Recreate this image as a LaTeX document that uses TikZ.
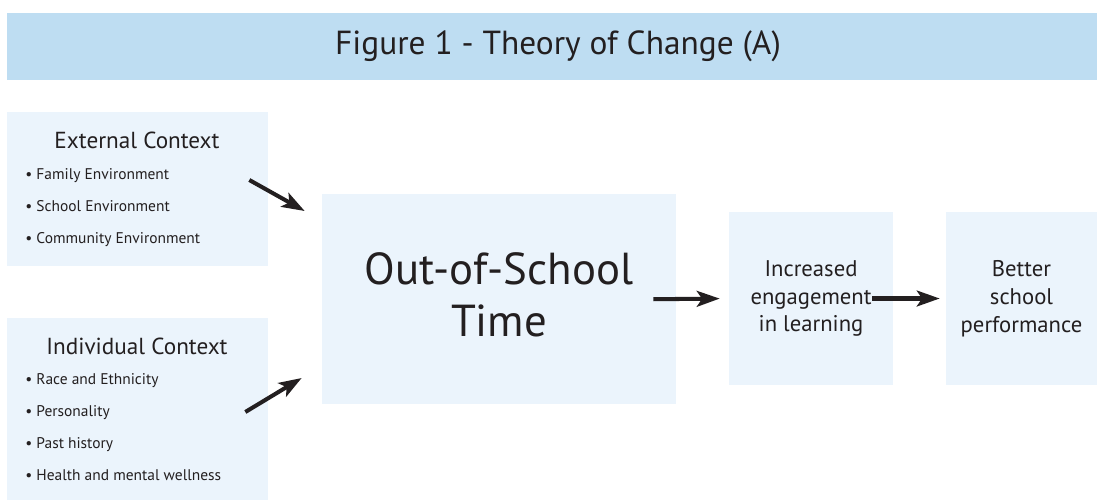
\documentclass[tikz,border=0pt]{standalone}
\usepackage{fontspec}
\setmainfont{PT Sans}
\usetikzlibrary{positioning, arrows.meta}
\definecolor{BannerColor}{RGB}{190,221,242}
\definecolor{BoxColor}{RGB}{235,244,252}
\definecolor{InkColor}{RGB}{35,31,32}
\tikzstyle{arrow} = [line width=2.3pt, InkColor, -{Stealth[length=13pt, width=9pt, inset=3pt]}]
\tikzset{
  banner/.style={fill=BannerColor, inner sep=0pt, text=InkColor, font=\fontsize{19}{23}\selectfont},
  box/.style={fill=BoxColor, inner sep=0pt, text=InkColor, align=center},
  heading/.style={text=InkColor, font=\fontsize{13.2}{15}\selectfont},
  bullet/.style={anchor=base west, inner sep=0pt, text=InkColor, font=\fontsize{8.8}{10}\selectfont},
  stage/.style={box, font=\fontsize{12.9}{15.9}\selectfont}
}

\begin{document}
\begin{tikzpicture}[x=0.02cm, y=-0.02cm]
  \useasboundingbox (0,0) rectangle (1097,501);

  % Title banner
  \node[banner, minimum width=22.04cm, minimum height=1.34cm] (banner) at (558,46.5) {Figure 1 - Theory of Change (A)};

  % External context
  \node[box, minimum width=5.22cm, minimum height=3.08cm] (ext) at (137.5,189) {};
  \node[heading] (exthead) at (137,140) {External Context};
  \foreach \txt [count=\i] in {Family Environment, School Environment, Community Environment}
    \node[bullet] (extitem\i) at (25,147+32*\i) {\textbullet\ \txt};

  % Individual context
  \node[box, minimum width=5.22cm, minimum height=3.64cm] (ind) at (137.5,409) {};
  \node[heading] (indhead) at (137,346) {Individual Context};
  \foreach \txt [count=\i] in {Race and Ethnicity, Personality, Past history, Health and mental wellness}
    \node[bullet] (inditem\i) at (25,352+32*\i) {\textbullet\ \txt};

  % Stages
  \node[box, minimum width=7.08cm, minimum height=4.2cm, font=\fontsize{25.5}{29.5}\selectfont] (ost) at (499,299) {Out-of-School\\Time\vphantom{p}};
  \node[stage, minimum width=3.28cm, minimum height=3.46cm] (inc) at (811,298.5) {Increased\\engagement\\in learning};
  \node[stage, minimum width=3.02cm, minimum height=3.46cm] (bet) at (1021.5,298.5) {Better\\school\\performance};

  % Arrows
  \draw[arrow] ([shift={(-19,-9)}]ext.east) -- ([shift={(-17,-88)}]ost.west);
  \draw[arrow] ([shift={(-23,3)}]ind.east) -- ([shift={(-20,79)}]ost.west);
  \draw[arrow, shorten <=-0.46cm, shorten >=0.18cm] (ost.east) -- (inc.west);
  \draw[arrow, shorten <=-0.42cm, shorten >=0.12cm] (inc.east) -- (bet.west);
\end{tikzpicture}
\end{document}
